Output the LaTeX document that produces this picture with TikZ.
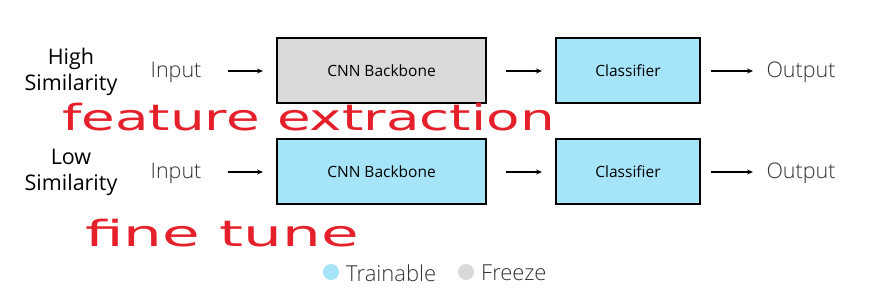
\documentclass[tikz,border=0pt]{standalone}
\usepackage{fontspec}
\setmainfont{Open Sans}
\newfontfamily\lightfont{Open Sans Light}
\newfontfamily\handfont{DejaVu Sans}
\usetikzlibrary{arrows.meta}
\definecolor{trainblue}{HTML}{A6E4FA}
\definecolor{freezegray}{HTML}{D9D9D9}
\definecolor{inkred}{HTML}{E5202A}
\definecolor{txtgray}{HTML}{333333}
\tikzset{
  blockbox/.style={draw=black, line width=1.5pt, minimum height=65pt, font=\fontsize{15.5}{17}\selectfont},
  wide/.style={minimum width=209pt},
  narrow/.style={minimum width=144pt},
  iolabel/.style={font=\lightfont\fontsize{21.5}{23}\selectfont, text=txtgray},
  simlabel/.style={font=\fontsize{21.5}{26}\selectfont, align=center},
  flow/.style={-{Stealth[length=6pt,width=5pt]}, line width=1.3pt},
  hand/.style={font=\handfont\fontsize{36}{40}\selectfont, text=inkred, inner sep=0pt},
  legtext/.style={font=\lightfont\fontsize{22}{24}\selectfont, text=txtgray, anchor=west, inner sep=0pt},
  legdot/.style={circle, inner sep=0pt, minimum size=16pt}
}
\begin{document}
\begin{tikzpicture}[x=1pt,y=-1pt]
\useasboundingbox (0,0) rectangle (882,306);
% row 1
\node[simlabel] (s1) at (71,72) {High\\Similarity};
\node[iolabel] (in1) at (176,72) {Input};
\node[blockbox,wide,fill=freezegray] (cnn1) at (381.5,70.5) {CNN Backbone};
\node[blockbox,narrow,fill=trainblue] (cls1) at (628,70.5) {Classifier};
\node[iolabel] (out1) at (801,72) {Output};
\coordinate (a1s) at (228,71); \coordinate (a1e) at (263,71);
\coordinate (b1s) at (506,71); \coordinate (b1e) at (542,71);
\coordinate (c1s) at (711,71); \coordinate (c1e) at (753,71);
\draw[flow] (a1s) -- (a1e);
\draw[flow] (b1s) -- (b1e);
\draw[flow] (c1s) -- (c1e);
% row 2
\node[simlabel] (s2) at (71,172) {Low\\Similarity};
\node[iolabel] (in2) at (176,173) {Input};
\node[blockbox,wide,fill=trainblue] (cnn2) at (381.5,171.5) {CNN Backbone};
\node[blockbox,narrow,fill=trainblue] (cls2) at (628,171.5) {Classifier};
\node[iolabel] (out2) at (801,173) {Output};
\coordinate (a2s) at (228,172); \coordinate (a2e) at (263,172);
\coordinate (b2s) at (506,172); \coordinate (b2e) at (542,172);
\coordinate (c2s) at (711,172); \coordinate (c2e) at (753,172);
\draw[flow] (a2s) -- (a2e);
\draw[flow] (b2s) -- (b2e);
\draw[flow] (c2s) -- (c2e);
% handwriting
\node[hand, anchor=west, xscale=1.52] (fe) at (62,117) {feature extraction};
\node[hand, anchor=west, xscale=1.7] (ft) at (85,233) {fine tune};
% legend
\node[legdot, fill=trainblue] (d1) at (331,272) {};
\node[legtext] (l1) at (346,273) {Trainable};
\node[legdot, fill=freezegray] (d2) at (466,272) {};
\node[legtext] (l2) at (481,273) {Freeze};
\end{tikzpicture}
\end{document}
